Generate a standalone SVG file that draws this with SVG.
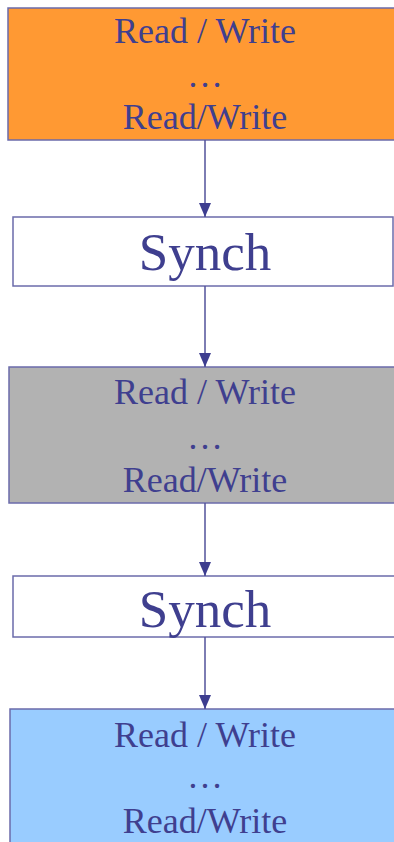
<svg xmlns="http://www.w3.org/2000/svg" width="394" height="842" viewBox="0 0 394 842">
<style>
.box{stroke:#6b6bab;stroke-width:1.5}
.t{font-family:"Liberation Serif","Times New Roman",serif;fill:#3f3f8f;text-anchor:middle}
.rw{font-size:36px}
.sy{font-size:53px}
.c{stroke:#52529a;stroke-width:1.5;fill:none}
</style>
<defs>
<marker id="ah" markerUnits="userSpaceOnUse" markerWidth="14" markerHeight="16" refX="14" refY="6" orient="auto" viewBox="0 0 14 12">
<path d="M0,0 L14,6 L0,12 Z" fill="#3d3d8f"/>
</marker>
</defs>
<rect width="394" height="842" fill="#ffffff"/>
<g id="rw1">
<rect class="box" x="8" y="8" width="396" height="132" fill="#ff9933"/>
<text class="t rw" x="205" y="43">Read / Write</text>
<text class="t rw" x="205" y="87">…</text>
<text class="t rw" x="205" y="129">Read/Write</text>
</g>
<g id="synch1">
<rect class="box" x="13" y="217" width="380" height="69" fill="#ffffff"/>
<text class="t sy" x="205" y="270">Synch</text>
</g>
<g id="rw2">
<rect class="box" x="9" y="367" width="396" height="136" fill="#b2b2b2"/>
<text class="t rw" x="205" y="404">Read / Write</text>
<text class="t rw" x="205" y="449">…</text>
<text class="t rw" x="205" y="492">Read/Write</text>
</g>
<g id="synch2">
<rect class="box" x="13" y="576" width="392" height="61" fill="#ffffff"/>
<text class="t sy" x="205" y="627">Synch</text>
</g>
<g id="rw3">
<rect class="box" x="10" y="709" width="396" height="140" fill="#99ccff"/>
<text class="t rw" x="205" y="747">Read / Write</text>
<text class="t rw" x="205" y="788">…</text>
<text class="t rw" x="205" y="833">Read/Write</text>
</g>
<g id="connectors">
<line class="c" x1="205" y1="140" x2="205" y2="217" marker-end="url(#ah)"/>
<line class="c" x1="205" y1="286" x2="205" y2="367" marker-end="url(#ah)"/>
<line class="c" x1="205" y1="503" x2="205" y2="576" marker-end="url(#ah)"/>
<line class="c" x1="205" y1="637" x2="205" y2="709" marker-end="url(#ah)"/>
</g>
</svg>
